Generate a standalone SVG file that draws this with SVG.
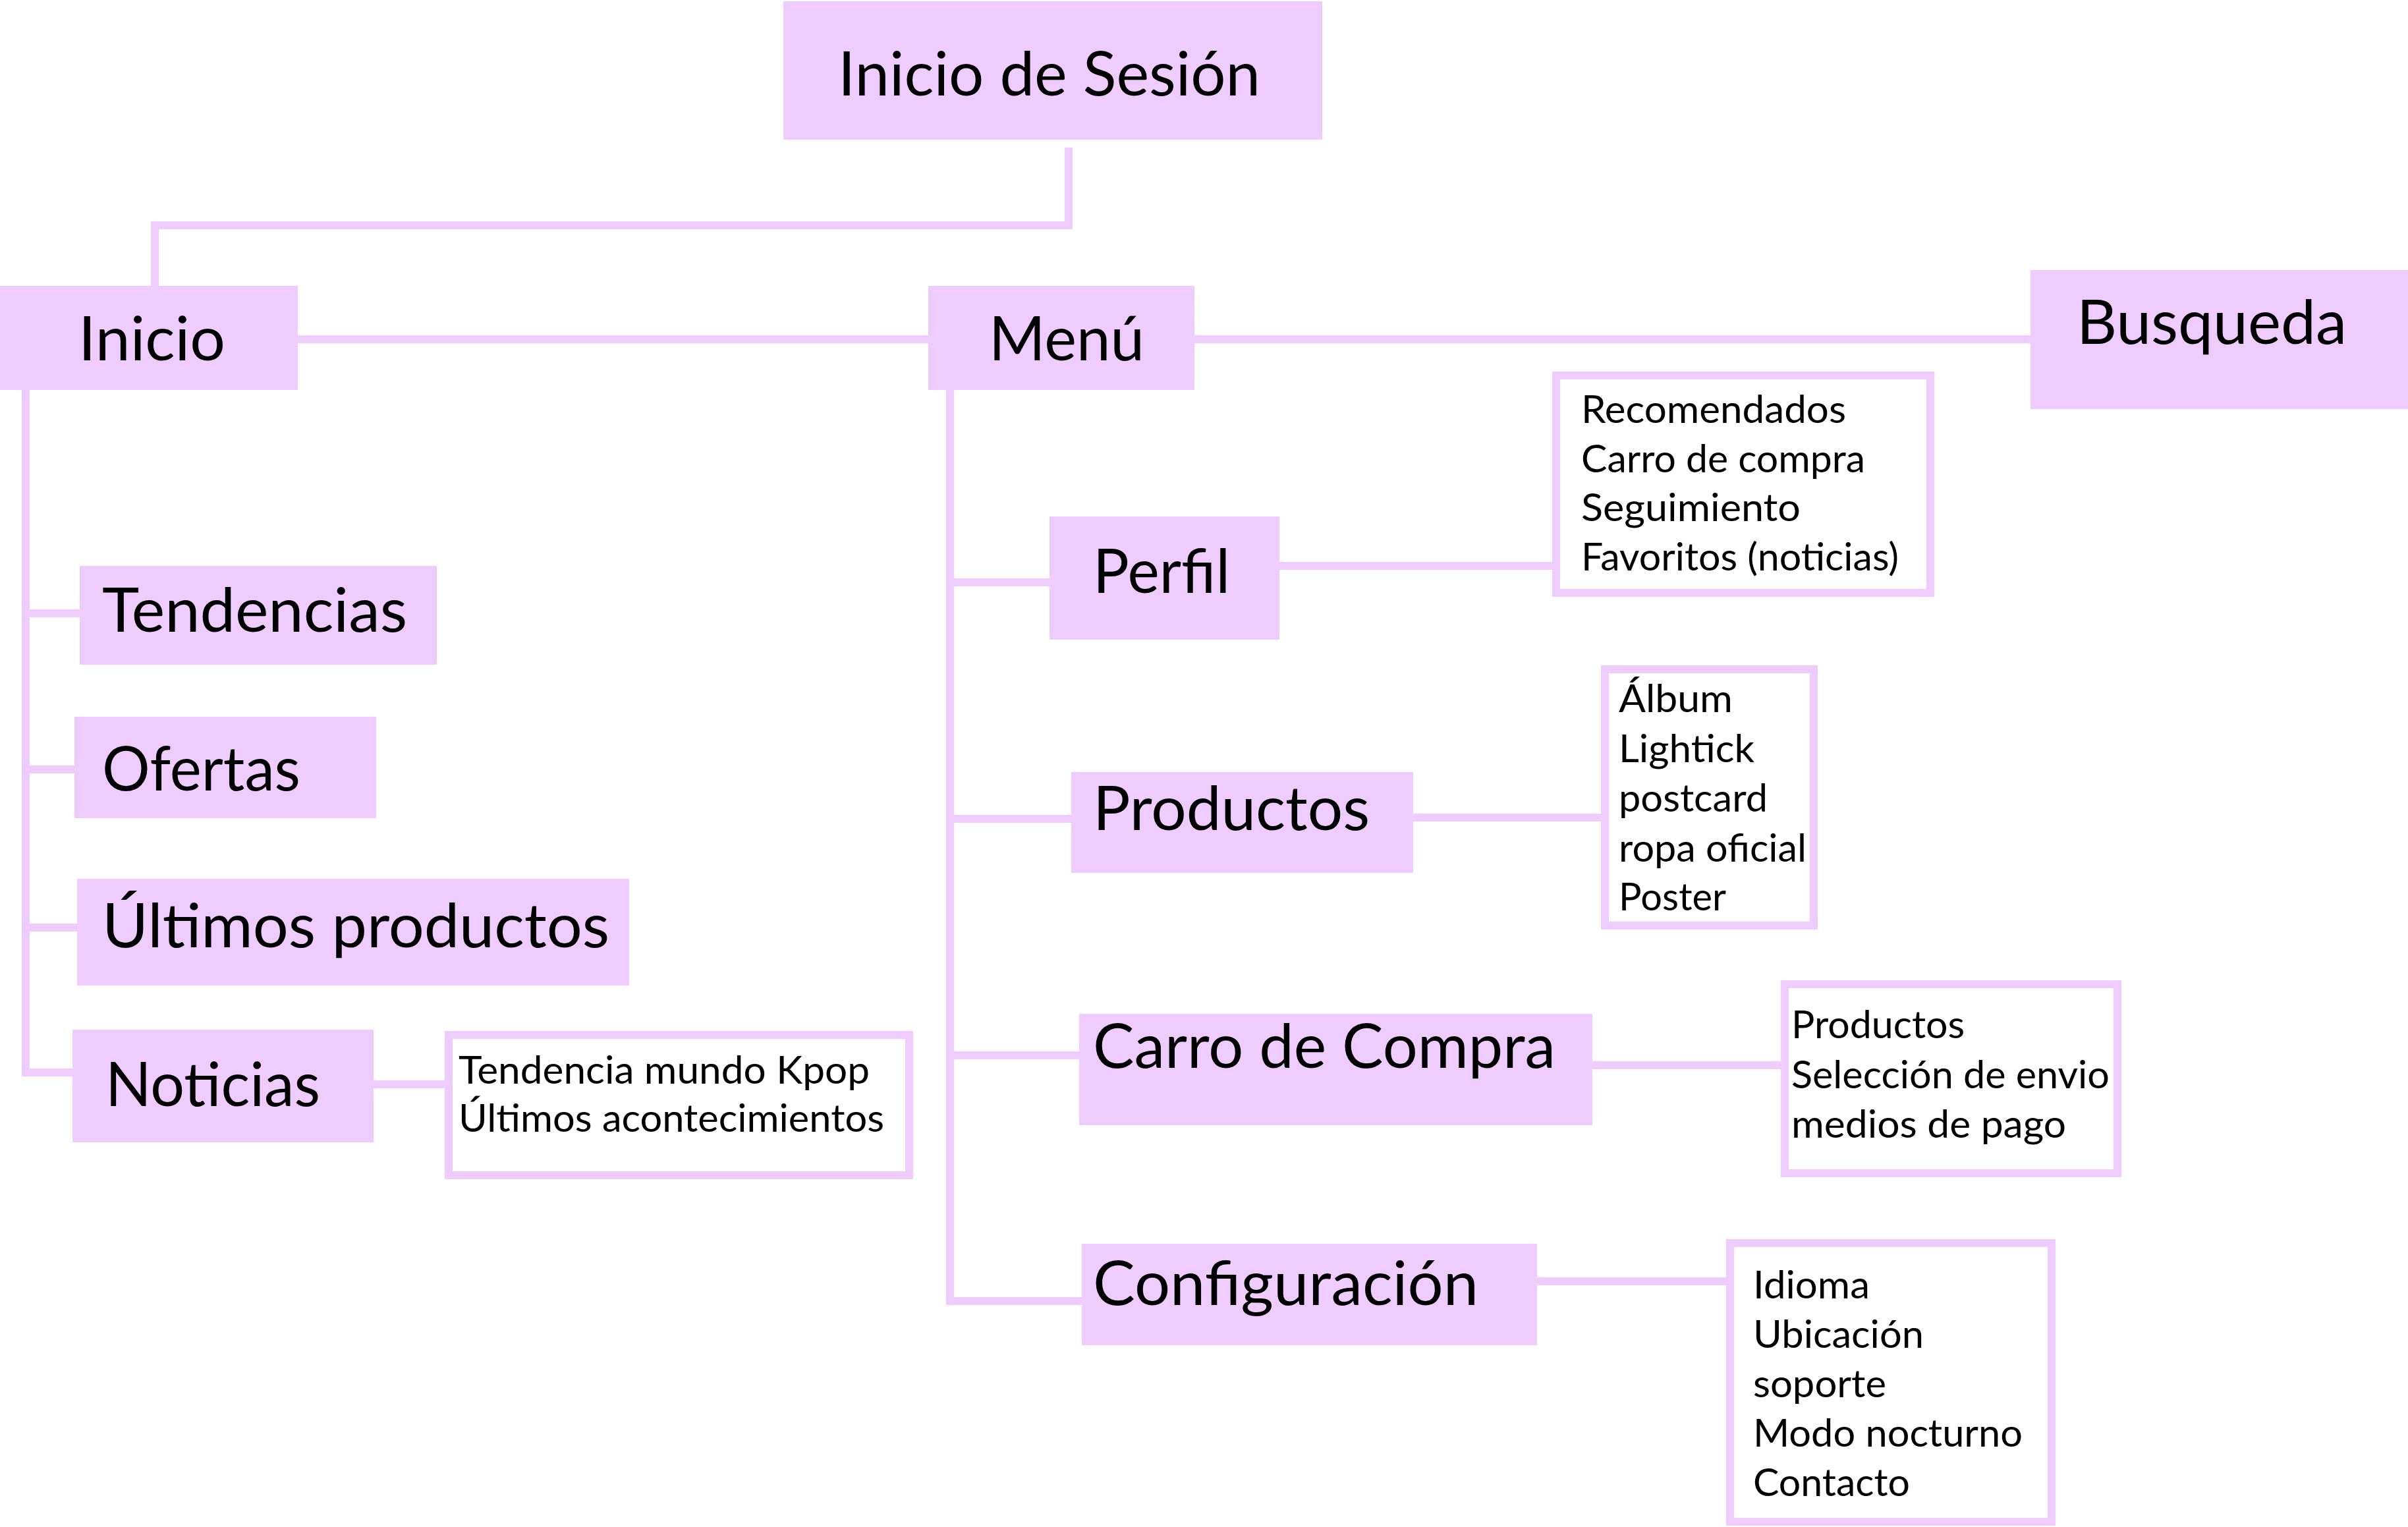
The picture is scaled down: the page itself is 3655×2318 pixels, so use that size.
<svg xmlns="http://www.w3.org/2000/svg" width="3655" height="2318" viewBox="0 0 3655 2318">
<style>
.box{fill:#EECCFE;}
.list{fill:#FFFFFF;stroke:#EECCFE;stroke-width:12;}
.con{fill:none;stroke:#EECCFE;stroke-width:12;stroke-linejoin:miter;stroke-linecap:butt;}
.big{font-family:Lato,"Open Sans","Liberation Sans",sans-serif;font-size:93px;fill:#000;}
.small{font-family:Lato,"Open Sans","Liberation Sans",sans-serif;font-size:59px;fill:#000;}
</style>
<rect width="3655" height="2318" fill="#FFFFFF"/>
<g id="connectors">
<path class="con" d="M1622,224 V342 H235 V434"/>
<path class="con" d="M452,515 H1409"/>
<path class="con" d="M1813,515 H3082"/>
<path class="con" d="M39,592 V1628 H110"/>
<path class="con" d="M39,931 H121"/>
<path class="con" d="M39,1168 H114"/>
<path class="con" d="M39,1408 H117"/>
<path class="con" d="M566,1646 H676"/>
<path class="con" d="M1442,592 V1975 H1642"/>
<path class="con" d="M1442,884 H1593"/>
<path class="con" d="M1442,1243 H1626"/>
<path class="con" d="M1442,1602 H1639"/>
<path class="con" d="M1942,859 H2357"/>
<path class="con" d="M2145,1241 H2431"/>
<path class="con" d="M2417,1617 H2704"/>
<path class="con" d="M2333,1945 H2620"/>
</g>
<g id="inicio-sesion"><rect class="box" x="1189" y="2" width="818" height="210"/><text class="big" x="1272" y="145" textLength="641" lengthAdjust="spacingAndGlyphs">Inicio de Sesión</text></g>
<g id="inicio"><rect class="box" x="0" y="434" width="452" height="158"/><text class="big" x="119" y="547" textLength="223" lengthAdjust="spacingAndGlyphs">Inicio</text></g>
<g id="menu"><rect class="box" x="1409" y="434" width="404" height="158"/><text class="big" x="1501" y="547" textLength="236" lengthAdjust="spacingAndGlyphs">Menú</text></g>
<g id="busqueda"><rect class="box" x="3082" y="410" width="573" height="211"/><text class="big" x="3152" y="522" textLength="410" lengthAdjust="spacingAndGlyphs">Busqueda</text></g>
<g id="tendencias"><rect class="box" x="121" y="859" width="542" height="150"/><text class="big" x="155" y="959" textLength="463" lengthAdjust="spacingAndGlyphs">Tendencias</text></g>
<g id="ofertas"><rect class="box" x="113" y="1088" width="458" height="154"/><text class="big" x="155" y="1200" textLength="301" lengthAdjust="spacingAndGlyphs">Ofertas</text></g>
<g id="ultimos-productos"><rect class="box" x="117" y="1334" width="838" height="162"/><text class="big" x="155" y="1438" textLength="770" lengthAdjust="spacingAndGlyphs">Últimos productos</text></g>
<g id="noticias"><rect class="box" x="110" y="1563" width="457" height="171"/><text class="big" x="160" y="1679" textLength="326" lengthAdjust="spacingAndGlyphs">Noticias</text></g>
<g id="noticias-lista"><rect class="list" x="681" y="1571" width="699" height="213"/>
<text class="small" x="696" y="1645" textLength="624" lengthAdjust="spacingAndGlyphs">Tendencia mundo Kpop</text>
<text class="small" x="696" y="1718" textLength="646" lengthAdjust="spacingAndGlyphs">Últimos acontecimientos</text></g>
<g id="perfil"><rect class="box" x="1593" y="784" width="349" height="187"/><text class="big" x="1659" y="900" textLength="208" lengthAdjust="spacingAndGlyphs">Perfil</text></g>
<g id="perfil-lista"><rect class="list" x="2362" y="570" width="568" height="330"/>
<text class="small" x="2400" y="642" textLength="402" lengthAdjust="spacingAndGlyphs">Recomendados</text>
<text class="small" x="2400" y="717" textLength="431" lengthAdjust="spacingAndGlyphs">Carro de compra</text>
<text class="small" x="2400" y="791" textLength="333" lengthAdjust="spacingAndGlyphs">Seguimiento</text>
<text class="small" x="2400" y="866" textLength="482" lengthAdjust="spacingAndGlyphs">Favoritos (noticias)</text></g>
<g id="productos"><rect class="box" x="1626" y="1172" width="519" height="153"/><text class="big" x="1659" y="1260" textLength="420" lengthAdjust="spacingAndGlyphs">Productos</text></g>
<g id="productos-lista"><rect class="list" x="2436" y="1016" width="317" height="389"/>
<text class="small" x="2457" y="1081" textLength="173" lengthAdjust="spacingAndGlyphs">Álbum</text>
<text class="small" x="2457" y="1157" textLength="206" lengthAdjust="spacingAndGlyphs">Lightick</text>
<text class="small" x="2457" y="1232" textLength="226" lengthAdjust="spacingAndGlyphs">postcard</text>
<text class="small" x="2457" y="1308" textLength="285" lengthAdjust="spacingAndGlyphs">ropa oficial</text>
<text class="small" x="2457" y="1382" textLength="163" lengthAdjust="spacingAndGlyphs">Poster</text></g>
<g id="carro-de-compra"><rect class="box" x="1638" y="1539" width="779" height="169"/><text class="big" x="1659" y="1621" textLength="702" lengthAdjust="spacingAndGlyphs">Carro de Compra</text></g>
<g id="carro-lista"><rect class="list" x="2709" y="1494" width="505" height="287"/>
<text class="small" x="2719" y="1576" textLength="263" lengthAdjust="spacingAndGlyphs">Productos</text>
<text class="small" x="2719" y="1652" textLength="483" lengthAdjust="spacingAndGlyphs">Selección de envio</text>
<text class="small" x="2719" y="1727" textLength="417" lengthAdjust="spacingAndGlyphs">medios de pago</text></g>
<g id="configuracion"><rect class="box" x="1642" y="1888" width="691" height="154"/><text class="big" x="1659" y="1981" textLength="585" lengthAdjust="spacingAndGlyphs">Configuración</text></g>
<g id="configuracion-lista"><rect class="list" x="2626" y="1887" width="488" height="423"/>
<text class="small" x="2661" y="1971" textLength="177" lengthAdjust="spacingAndGlyphs">Idioma</text>
<text class="small" x="2661" y="2046" textLength="259" lengthAdjust="spacingAndGlyphs">Ubicación</text>
<text class="small" x="2661" y="2121" textLength="202" lengthAdjust="spacingAndGlyphs">soporte</text>
<text class="small" x="2661" y="2196" textLength="409" lengthAdjust="spacingAndGlyphs">Modo nocturno</text>
<text class="small" x="2661" y="2271" textLength="238" lengthAdjust="spacingAndGlyphs">Contacto</text></g>
</svg>
